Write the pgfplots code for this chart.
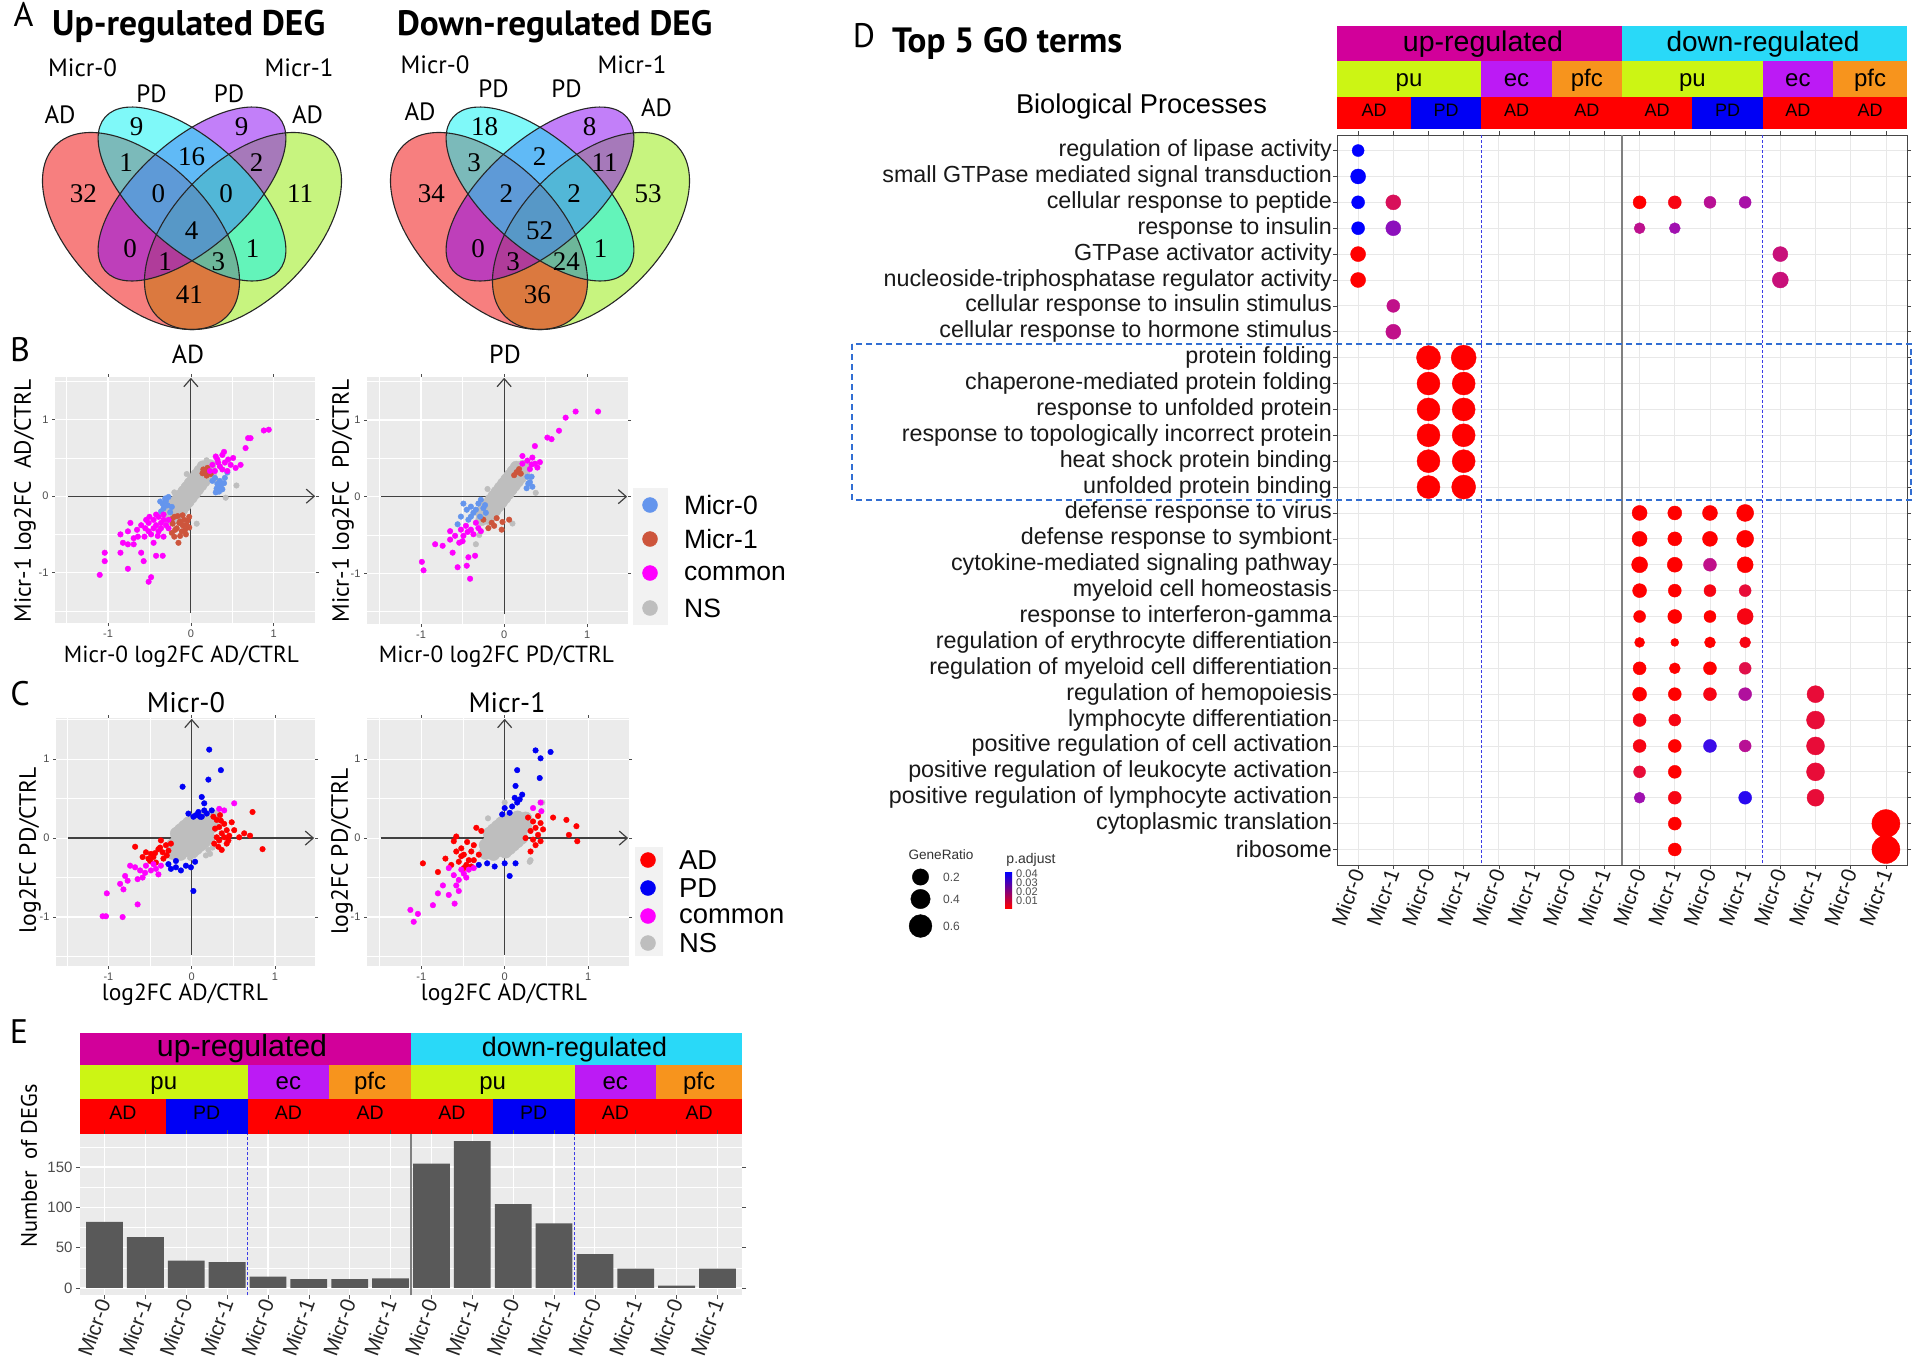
\documentclass[border=0pt]{standalone}
\usepackage{fontspec}
\setmainfont{Liberation Sans}
\newfontfamily\myr{PT Sans}
\newfontfamily\vser{Liberation Serif}
\usepackage{graphicx}
\usepackage{pgfplots}
\usepackage{pgfplotstable}
\pgfplotsset{compat=1.18}
\usetikzlibrary{arrows.meta}
\newcommand{\fsz}[1]{\fontsize{#1}{#1}\selectfont}

\definecolor{vred}{RGB}{240,0,0}
\definecolor{vcyan}{RGB}{0,245,245}
\definecolor{vpur}{RGB}{135,0,245}
\definecolor{vgrn}{RGB}{145,235,0}
\definecolor{upmag}{RGB}{210,0,154}
\definecolor{downcy}{RGB}{41,217,248}
\definecolor{pucol}{RGB}{204,245,20}
\definecolor{eccol}{RGB}{188,26,245}
\definecolor{pfccol}{RGB}{247,148,29}
\definecolor{adred}{RGB}{255,0,0}
\definecolor{pdblue}{RGB}{0,0,245}
\definecolor{ggbg}{RGB}{235,235,235}
\definecolor{keybg}{RGB}{242,242,242}
\definecolor{mzero}{RGB}{100,149,237}
\definecolor{mone}{RGB}{205,85,60}
\definecolor{comm}{RGB}{255,0,255}
\definecolor{nsg}{RGB}{190,190,190}
\definecolor{barg}{RGB}{89,89,89}
\definecolor{boxblue}{RGB}{50,110,210}
\definecolor{txtg}{RGB}{77,77,77}
\definecolor{dashb}{RGB}{60,60,230}
\definecolor{padmid}{RGB}{160,16,176}

% grey (NS) clouds: dense cores
\pgfplotstableread{
x y
-0.270 -0.300
-0.232 -0.246
-0.193 -0.192
-0.155 -0.138
-0.116 -0.085
-0.078 -0.031
-0.039 0.023
0.000 0.077
0.038 0.131
0.077 0.185
0.115 0.238
0.154 0.292
0.192 0.346
0.230 0.400
-0.185 -0.286
-0.279 -0.206
-0.146 -0.232
-0.240 -0.152
-0.108 -0.178
-0.202 -0.098
-0.069 -0.125
-0.163 -0.045
-0.031 -0.071
-0.125 0.009
0.008 -0.017
-0.086 0.063
0.047 0.037
-0.047 0.117
0.085 0.091
-0.009 0.171
0.124 0.145
0.030 0.225
0.162 0.198
0.068 0.278
0.201 0.252
0.107 0.332
0.239 0.306
0.145 0.386
}\nsB
\pgfplotstableread{
x y
-0.230 -0.190
-0.182 -0.146
-0.134 -0.102
-0.086 -0.058
-0.038 -0.014
0.010 0.030
0.058 0.074
0.106 0.118
0.154 0.162
0.202 0.206
0.250 0.250
-0.135 -0.203
-0.229 -0.089
-0.087 -0.159
-0.181 -0.045
-0.039 -0.115
-0.133 -0.001
0.009 -0.071
-0.085 0.043
0.057 -0.027
-0.037 0.087
0.105 0.017
0.011 0.131
0.153 0.061
0.059 0.175
0.201 0.105
0.107 0.219
0.249 0.149
0.155 0.263
0.009 -0.173
-0.181 0.057
0.057 -0.129
-0.133 0.101
0.105 -0.085
-0.085 0.145
0.153 -0.041
-0.037 0.189
0.201 0.003
0.011 0.233
}\nsC

\tikzset{arr/.style={draw=black!75, line width=1.2pt, -{Straight Barb[length=8pt, width=14pt, line width=1.2pt]}}}
\pgfplotsset{
  scat/.style={
    scale only axis, anchor=north west,
    axis background/.style={fill=ggbg},
    axis line style={draw=none},
    xtick={-1,0,1}, ytick={-1,0,1},
    minor xtick={-1.5,-0.5,0.5,1.5}, minor ytick={-1.5,-0.5,0.5,1.5},
    grid=both,
    major grid style={white, line width=1.1pt},
    minor grid style={white, line width=0.5pt},
    tick align=outside, major tick length=3pt, minor tick length=0pt,
    tick style={txtg, line width=0.6pt},
    ticklabel style={font=\fsz{11}, text=txtg},
    /pgf/number format/assume math mode=true,
    clip=false,
  },
  ns/.style={only marks, mark=*, mark size=6pt, color=nsg},
  dotc/.style={only marks, mark=*, mark size=2.8pt, color=#1},
  keyleg/.style={scale only axis, anchor=north west, hide axis, y dir=reverse, clip=false},
}

\begin{document}
\begin{tikzpicture}[x=1pt,y=-1pt,
  tx/.style={inner sep=0pt, text height=0.7em, text depth=0pt},
  lg/.style={anchor=west, inner sep=0pt}]
\path[use as bounding box] (0,0) rectangle (1920,1369);
\fill[white] (0,0) rectangle (1920,1369);

% ================= Panel A =================
\foreach \dx in {0,348}{
  \fill[vgrn, fill opacity=0.5, rotate around={45:(243+\dx,231)}] (243+\dx,231) ellipse [x radius=121, y radius=69];
  \fill[vred, fill opacity=0.5, rotate around={-45:(141+\dx,231)}] (141+\dx,231) ellipse [x radius=121, y radius=69];
  \fill[vpur, fill opacity=0.5, rotate around={41.6:(192+\dx,194)}] (192+\dx,194) ellipse [x radius=116, y radius=54];
  \fill[vcyan, fill opacity=0.5, rotate around={-41.6:(192+\dx,194)}] (192+\dx,194) ellipse [x radius=116, y radius=54];
  \draw[black!85, line width=1.1pt, rotate around={45:(243+\dx,231)}] (243+\dx,231) ellipse [x radius=121, y radius=69];
  \draw[black!85, line width=1.1pt, rotate around={-45:(141+\dx,231)}] (141+\dx,231) ellipse [x radius=121, y radius=69];
  \draw[black!85, line width=1.1pt, rotate around={41.6:(192+\dx,194)}] (192+\dx,194) ellipse [x radius=116, y radius=54];
  \draw[black!85, line width=1.1pt, rotate around={-41.6:(192+\dx,194)}] (192+\dx,194) ellipse [x radius=116, y radius=54];
}
\begin{scope}[every node/.style={font=\vser\fsz{27}, inner sep=0pt}]
\foreach \x/\y/\u/\d in {136.7/126.7/9/18, 241.7/126.7/9/8, 126/163/1/3, 191.7/156.7/16/2, 256.7/163/2/11, 83.3/193.3/32/34, 158.3/193.3/0/2, 226/193.3/0/2, 300/193.3/11/53, 191.7/231/4/52, 130/249/0/0, 165/261.7/1/3, 218.3/261.7/3/24, 252.7/249/1/1, 189.3/295/41/36}{
  \node at (\x,\y) {\u};
  \node at (\x+348,\y) {\d};
}
\end{scope}
\begin{scope}[every node/.style={tx, font=\myr\fsz{25}}]
\node at (82.5,72.5) {Micr-0};
\node at (299,72.5) {Micr-1};
\node at (151.5,98.5) {PD};
\node at (229,98.5) {PD};
\node at (60,120) {AD};
\node at (307.5,120) {AD};
\node at (435,70) {Micr-0};
\node at (632,70) {Micr-1};
\node at (493.5,93.5) {PD};
\node at (566.5,93.5) {PD};
\node at (420,117) {AD};
\node at (656.5,112.5) {AD};
\end{scope}
\node[anchor=base west, inner sep=0pt] at (52,35) {\resizebox{273pt}{!}{\myr\bfseries Up-regulated DEG}};
\node[anchor=base west, inner sep=0pt] at (397,35) {\resizebox{315pt}{!}{\myr\bfseries Down-regulated DEG}};

% panel letters
\begin{scope}[every node/.style={tx, font=\myr\fsz{34}}]
\node at (23.5,22.5) {A};
\node at (20,357.5) {B};
\node at (20,702) {C};
\node at (864,44) {D};
\node at (19,1040) {E};
\end{scope}

% ================= Panel B =================
\node[tx, font=\myr\fsz{26}] at (188,360) {AD};
\node[tx, font=\myr\fsz{26}] at (505,360) {PD};
\node[anchor=base west, inner sep=0pt] at (65,409) {\resizebox{91pt}{!}{\myr r= 0.811}};
\node[anchor=base west, inner sep=0pt] at (65,436) {\resizebox{122pt}{!}{\myr p< 2.2e-16}};
\node[anchor=base west, inner sep=0pt] at (379,408) {\resizebox{91pt}{!}{\myr r= 0.736}};
\node[anchor=base west, inner sep=0pt] at (379,435) {\resizebox{123pt}{!}{\myr p< 2.2e-16}};
\node[anchor=base, inner sep=0pt] at (181.5,662) {\resizebox{235pt}{!}{\myr Micr-0 log2FC AD/CTRL}};
\node[anchor=base, inner sep=0pt] at (496.5,662) {\resizebox{235pt}{!}{\myr Micr-0 log2FC PD/CTRL}};
\node[rotate=90, inner sep=0pt] at (25,501) {\resizebox{243pt}{!}{\myr Micr-1 log2FC\ \ AD/CTRL}};
\node[rotate=90, inner sep=0pt] at (343,501) {\resizebox{243pt}{!}{\myr Micr-1 log2FC\ \ PD/CTRL}};

\begin{axis}[scat, at={(55pt,-377pt)}, width=261pt, height=246pt,
  xmin=-1.64, xmax=1.51, ymin=-1.66, ymax=1.56]
\addplot[ns] table {\nsB};
\addplot[dotc=nsg] coordinates {(-0.05,0.29) (0.19,0.47) (0.55,0.14) (0.07,-0.36) (0.42,-0.02) (-0.40,-0.40) (0.30,0.22) (-0.20,0.05)};
\addplot[dotc=mone] coordinates {(0.17,0.31) (0.20,0.37) (0.15,0.35) (0.24,0.29) (0.19,0.27) (0.14,0.30) (-0.20,-0.27) (-0.14,-0.35) (-0.08,-0.31) (-0.17,-0.42) (-0.11,-0.46) (-0.05,-0.38) (-0.20,-0.53) (-0.15,-0.61) (-0.23,-0.48) (-0.02,-0.27) (-0.10,-0.25) (-0.13,-0.52) (-0.07,-0.44) (-0.22,-0.36) (-0.16,-0.26) (-0.04,-0.32) (-0.10,-0.38) (-0.19,-0.44) (-0.06,-0.50) (-0.13,-0.33) (-0.23,-0.30) (-0.02,-0.41)};
\addplot[dotc=mzero] coordinates {(0.29,0.24) (0.35,0.20) (0.32,0.16) (0.38,0.09) (0.34,0.06) (0.41,0.24) (0.44,0.31) (0.26,0.20) (0.36,0.13) (0.31,0.10) (0.30,0.05) (0.40,0.17) (-0.34,-0.10) (-0.30,-0.06) (-0.27,-0.01) (-0.33,-0.16) (-0.23,-0.14) (-0.36,-0.20) (-0.28,-0.12) (-0.31,-0.03) (-0.25,-0.21) (-0.37,-0.07)};
\addplot[dotc=comm] coordinates {(-1.10,-1.03) (-1.04,-0.74) (-1.04,-0.85) (-0.85,-0.74) (-0.76,-0.95) (-0.76,-0.63) (-0.69,-0.63) (-0.60,-0.74) (-0.57,-0.85) (-0.51,-1.12) (-0.48,-1.06) (-0.42,-0.78) (-0.34,-0.78) (-0.45,-0.61) (-0.64,-0.53) (-0.73,-0.35) (-0.65,-0.44) (-0.85,-0.50) (-0.51,-0.35) (-0.33,-0.53) (-0.27,-0.42) (-0.45,-0.31) (-0.39,-0.27) (-0.54,-0.31) (-0.60,-0.38) (-0.36,-0.35) (-0.45,-0.42) (-0.33,-0.31) (-0.27,-0.31) (-0.51,-0.46) (-0.39,-0.46) (-0.56,-0.53) (-0.76,-0.46) (-0.82,-0.61) (-0.69,-0.55) (-0.42,-0.38) (-0.48,-0.50) (-0.36,-0.42) (-0.55,-0.42) (-0.30,-0.38) (-0.42,-0.24) (-0.33,-0.24) (-0.50,-0.27) (-0.40,-0.52) (0.26,0.41) (0.32,0.48) (0.38,0.54) (0.41,0.44) (0.35,0.39) (0.48,0.41) (0.51,0.50) (0.29,0.33) (0.44,0.33) (0.60,0.41) (0.66,0.63) (0.69,0.76) (0.72,0.76) (0.88,0.86) (0.94,0.87) (0.23,0.33) (0.54,0.37) (0.38,0.35) (0.45,0.48) (0.33,0.44) (0.30,0.52) (0.40,0.58)};
\draw[arr] (axis cs:-1.48,0) -- (axis cs:1.50,0);
\draw[arr] (axis cs:0,-1.53) -- (axis cs:0,1.55);
\end{axis}

\begin{axis}[scat, at={(367pt,-377pt)}, width=261pt, height=247pt,
  xmin=-1.65, xmax=1.49, ymin=-1.66, ymax=1.56]
\addplot[ns] table {\nsB};
\addplot[dotc=nsg] coordinates {(-0.34,-0.62) (0.10,-0.35) (0.30,0.40) (-0.30,-0.50) (0.38,0.05) (-0.20,0.10)};
\addplot[dotc=mone] coordinates {(0.15,0.32) (0.20,0.30) (0.12,0.28) (0.18,0.36) (-0.25,-0.30) (-0.15,-0.34) (-0.09,-0.28) (-0.03,-0.43) (-0.19,-0.41) (0.06,-0.30) (-0.12,-0.38) (-0.02,-0.33)};
\addplot[dotc=mzero] coordinates {(-0.49,-0.09) (-0.45,-0.17) (-0.40,-0.13) (-0.37,-0.21) (-0.31,-0.09) (-0.28,-0.04) (-0.34,-0.17) (-0.25,-0.15) (-0.43,-0.30) (-0.56,-0.36) (-0.40,-0.26) (-0.29,-0.26) (-0.22,-0.21) (-0.23,-0.11) (-0.52,-0.26) (0.28,0.26) (0.31,0.19) (0.34,0.13) (0.27,0.11) (0.33,0.26) (0.29,0.17)};
\addplot[dotc=comm] coordinates {(0.22,0.43) (0.28,0.47) (0.34,0.51) (0.37,0.43) (0.43,0.45) (0.40,0.38) (0.31,0.36) (0.37,0.66) (0.52,0.77) (0.57,0.75) (0.66,0.86) (0.74,1.03) (0.86,1.11) (1.13,1.11) (0.22,0.53) (0.33,0.42) (-0.99,-0.85) (-0.97,-0.96) (-0.83,-0.62) (-0.74,-0.64) (-0.65,-0.56) (-0.62,-0.73) (-0.54,-0.60) (-0.49,-0.51) (-0.52,-0.43) (-0.46,-0.38) (-0.40,-0.43) (-0.34,-0.34) (-0.31,-0.41) (-0.37,-0.49) (-0.43,-0.79) (-0.45,-0.90) (-0.35,-0.77) (-0.41,-1.07) (-0.56,-0.92) (-0.59,-0.51) (-0.65,-0.45) (-0.28,-0.45) (-0.44,-0.46) (-0.50,-0.58)};
\draw[arr] (axis cs:-1.48,0) -- (axis cs:1.48,0);
\draw[arr] (axis cs:0,-1.53) -- (axis cs:0,1.55);
\end{axis}

\begin{axis}[keyleg, at={(633pt,-488pt)}, width=35pt, height=137pt,
  xmin=633, xmax=668, ymin=488, ymax=625]
\fill[keybg] (axis cs:633,488) rectangle (axis cs:668,625);
\addplot[only marks, mark=*, mark size=7.5pt, color=mzero] coordinates {(650,505)};
\addplot[only marks, mark=*, mark size=7.5pt, color=mone] coordinates {(650,539)};
\addplot[only marks, mark=*, mark size=7.5pt, color=comm] coordinates {(650,573)};
\addplot[only marks, mark=*, mark size=7.5pt, color=nsg] coordinates {(650,608)};
\node[lg, font=\fsz{26.5}] at (axis cs:684,505) {Micr-0};
\node[lg, font=\fsz{26.5}] at (axis cs:684,539) {Micr-1};
\node[lg, font=\fsz{26.5}] at (axis cs:684,573) {common};
\node[lg, font=\fsz{26.5}] at (axis cs:684,608) {NS};
\end{axis}

% ================= Panel C =================
\node[anchor=base, inner sep=0pt] at (186,712) {\resizebox{78pt}{!}{\myr Micr-0}};
\node[anchor=base, inner sep=0pt] at (507,712) {\resizebox{77pt}{!}{\myr Micr-1}};
\node[anchor=base west, inner sep=0pt] at (64,750) {\resizebox{89pt}{!}{\myr r= 0.737}};
\node[anchor=base west, inner sep=0pt] at (64,777) {\resizebox{125pt}{!}{\myr p < 2.2e-16}};
\node[anchor=base west, inner sep=0pt] at (372,745) {\resizebox{90pt}{!}{\myr r= 0.725}};
\node[anchor=base west, inner sep=0pt] at (372,770) {\resizebox{120pt}{!}{\myr p< 2.2e-16}};
\node[anchor=base, inner sep=0pt] at (185,1000) {\resizebox{166pt}{!}{\myr log2FC AD/CTRL}};
\node[anchor=base, inner sep=0pt] at (504,1000) {\resizebox{166pt}{!}{\myr log2FC AD/CTRL}};
\node[rotate=90, inner sep=0pt] at (30,850) {\resizebox{166pt}{!}{\myr log2FC PD/CTRL}};
\node[rotate=90, inner sep=0pt] at (342,851) {\resizebox{166pt}{!}{\myr log2FC PD/CTRL}};

\begin{axis}[scat, at={(56pt,-718pt)}, width=259pt, height=248pt,
  xmin=-1.63, xmax=1.48, ymin=-1.62, ymax=1.52]
\addplot[ns, mark size=6.5pt] table {\nsC};
\addplot[dotc=nsg] coordinates {(0.20,-0.15) (0.22,-0.20) (0.17,-0.22) (-0.02,-0.25) (0.30,0.32) (0.25,-0.12)};
\addplot[dotc=pdblue] coordinates {(0.21,1.12) (0.35,0.86) (0.20,0.74) (-0.11,0.65) (0.12,0.52) (0.15,0.44) (0.05,0.29) (0.12,0.27) (0.18,0.31) (0.02,0.27) (-0.04,0.31) (0.24,0.35) (0.15,0.35) (0.08,0.33) (0.10,0.27) (-0.25,-0.39) (-0.19,-0.37) (-0.13,-0.41) (-0.07,-0.35) (-0.01,-0.37) (-0.28,-0.33) (0.02,-0.67) (-0.19,-0.29) (0.04,-0.30)};
\addplot[dotc=adred] coordinates {(0.30,0.23) (0.33,0.14) (0.39,0.18) (0.42,0.10) (0.36,0.06) (0.30,0.01) (0.33,-0.03) (0.39,0.01) (0.45,0.03) (0.27,-0.07) (0.32,-0.11) (0.42,-0.07) (0.63,0.06) (0.70,0.03) (0.73,0.33) (0.85,-0.14) (0.51,0.10) (0.48,0.20) (0.57,0.01) (0.26,0.27) (0.34,0.29) (0.44,-0.03) (0.36,-0.15) (0.28,0.12) (0.35,0.22) (-0.68,-0.11) (-0.55,-0.18) (-0.49,-0.20) (-0.46,-0.24) (-0.40,-0.14) (-0.35,-0.18) (-0.31,-0.09) (-0.37,-0.03) (-0.28,-0.16) (-0.43,-0.31) (-0.52,-0.26) (-0.59,-0.24) (-0.34,-0.26) (-0.25,-0.07) (-0.44,-0.19) (-0.30,-0.22) (-0.38,-0.12) (-0.50,-0.29)};
\addplot[dotc=comm] coordinates {(0.33,0.37) (0.51,0.44) (0.39,0.35) (-0.74,-0.35) (-0.68,-0.37) (-0.55,-0.35) (-0.49,-0.41) (-0.43,-0.39) (-0.37,-0.35) (-0.46,-0.33) (-0.62,-0.41) (-0.80,-0.48) (-0.77,-0.54) (-0.65,-0.52) (-0.59,-0.50) (-0.86,-0.58) (-0.82,-0.65) (-0.65,-0.84) (-1.02,-0.70) (-1.07,-0.99) (-1.03,-0.99) (-0.83,-1.00) (-0.40,-0.46) (-0.56,-0.44)};
\draw[arr] (axis cs:-1.49,0) -- (axis cs:1.47,0);
\draw[arr] (axis cs:0,-1.48) -- (axis cs:0,1.51);
\end{axis}

\begin{axis}[scat, at={(367pt,-718pt)}, width=262pt, height=248pt,
  xmin=-1.65, xmax=1.49, ymin=-1.62, ymax=1.52]
\addplot[ns, mark size=6.5pt] table {\nsC};
\addplot[dotc=nsg] coordinates {(0.30,-0.30) (0.45,0.45) (0.00,0.45) (-0.20,0.25) (0.31,-0.28)};
\addplot[dotc=pdblue] coordinates {(0.37,1.11) (0.55,1.09) (0.43,1.01) (0.15,0.86) (0.42,0.76) (0.13,0.66) (0.12,0.51) (0.18,0.49) (0.21,0.55) (0.15,0.45) (0.00,0.38) (0.06,0.32) (-0.03,0.30) (0.09,0.40) (-0.31,-0.34) (-0.21,-0.32) (-0.12,-0.36) (0.00,-0.32) (0.06,-0.48) (0.13,-0.32)};
\addplot[dotc=adred] coordinates {(0.28,0.26) (0.34,0.21) (0.37,0.13) (0.31,0.09) (0.40,0.04) (0.34,-0.02) (0.43,-0.04) (0.37,-0.09) (0.46,0.11) (0.31,-0.17) (0.58,0.26) (0.74,0.23) (0.77,0.04) (0.86,0.15) (0.87,-0.04) (0.43,0.19) (0.25,0.00) (0.40,0.28) (-0.98,-0.32) (-0.80,-0.43) (-0.71,-0.26) (-0.61,-0.04) (-0.58,0.02) (-0.52,-0.13) (-0.49,-0.21) (-0.43,-0.28) (-0.46,-0.34) (-0.40,-0.17) (-0.37,-0.09) (-0.34,0.13) (-0.28,0.09) (-0.55,-0.30) (-0.49,-0.38) (-0.40,-0.36) (-0.31,-0.21) (-0.58,-0.17) (-0.64,-0.34) (-0.52,-0.23) (-0.37,-0.28) (-0.45,-0.05)};
\addplot[dotc=comm] coordinates {(0.34,0.38) (0.43,0.45) (0.44,0.34) (-0.67,-0.38) (-0.61,-0.47) (-0.55,-0.53) (-0.49,-0.45) (-0.43,-0.40) (-0.37,-0.38) (-0.58,-0.60) (-0.74,-0.60) (-0.80,-0.70) (-0.86,-0.85) (-0.67,-0.72) (-0.60,-0.83) (-0.55,-0.67) (-1.13,-0.91) (-1.04,-0.96) (-1.09,-1.06) (-0.46,-0.50) (-0.52,-0.40)};
\draw[arr] (axis cs:-1.48,0) -- (axis cs:1.48,0);
\draw[arr] (axis cs:0,-1.48) -- (axis cs:0,1.51);
\end{axis}

\begin{axis}[keyleg, at={(635pt,-847pt)}, width=28pt, height=109pt,
  xmin=635, xmax=663, ymin=847, ymax=956]
\fill[keybg] (axis cs:635,847) rectangle (axis cs:663,956);
\addplot[only marks, mark=*, mark size=7.5pt, color=adred] coordinates {(648,860)};
\addplot[only marks, mark=*, mark size=7.5pt, color=pdblue] coordinates {(648,888)};
\addplot[only marks, mark=*, mark size=7.5pt, color=comm] coordinates {(648,916)};
\addplot[only marks, mark=*, mark size=7.5pt, color=nsg] coordinates {(648,943)};
\node[lg, font=\fsz{27.4}] at (axis cs:679,860) {AD};
\node[lg, font=\fsz{27.4}] at (axis cs:679,888) {PD};
\node[lg, font=\fsz{27.4}] at (axis cs:679,916) {common};
\node[lg, font=\fsz{27.4}] at (axis cs:679,943) {NS};
\end{axis}

% ================= Panel E =================
\fill[upmag] (80,1033) rectangle (411,1065);
\fill[downcy] (411,1033) rectangle (742,1065);
\fill[pucol] (80,1065) rectangle (247.5,1099);
\fill[eccol] (247.5,1065) rectangle (329.3,1099);
\fill[pfccol] (329.3,1065) rectangle (411,1099);
\fill[pucol] (411,1065) rectangle (574.5,1099);
\fill[eccol] (574.5,1065) rectangle (656.2,1099);
\fill[pfccol] (656.2,1065) rectangle (742,1099);
\fill[adred] (80,1099) rectangle (165.8,1133.8);
\fill[pdblue] (165.8,1099) rectangle (247.5,1133.8);
\fill[adred] (247.5,1099) rectangle (492.7,1133.8);
\fill[pdblue] (492.7,1099) rectangle (574.5,1133.8);
\fill[adred] (574.5,1099) rectangle (742,1133.8);
\node[anchor=base, inner sep=0pt] at (242,1056) {\resizebox{170pt}{!}{up-regulated}};
\node[anchor=base, inner sep=0pt] at (574.5,1056) {\resizebox{185pt}{!}{down-regulated}};
\begin{scope}[every node/.style={anchor=base, inner sep=0pt, font=\fsz{24}}]
\node at (163.8,1089) {pu};
\node at (288.4,1089) {ec};
\node at (370.1,1089) {pfc};
\node at (492.7,1089) {pu};
\node at (615.3,1089) {ec};
\node at (699.1,1089) {pfc};
\end{scope}
\begin{scope}[every node/.style={tx, font=\fsz{19.5}}]
\node at (122.9,1116) {AD};
\node at (206.6,1116) {PD};
\node at (288.4,1116) {AD};
\node at (370.1,1116) {AD};
\node at (451.8,1116) {AD};
\node at (533.6,1116) {PD};
\node at (615.3,1116) {AD};
\node at (699.1,1116) {AD};
\end{scope}
\node[rotate=90, inner sep=0pt] at (29,1166) {\resizebox{163pt}{!}{\myr Number\ \ of DEGs}};

\begin{axis}[scale only axis, anchor=north west, at={(80pt,-1133.8pt)}, width=662pt, height=161.5pt,
  xmin=0.4, xmax=16.6, ymin=-9.1, ymax=191.1,
  axis background/.style={fill=ggbg}, axis line style={draw=none},
  ybar, bar width=0.9,
  xtick={1,...,16},
  xticklabels={Micr-0,Micr-1,Micr-0,Micr-1,Micr-0,Micr-1,Micr-0,Micr-1,Micr-0,Micr-1,Micr-0,Micr-1,Micr-0,Micr-1,Micr-0,Micr-1},
  ytick={0,50,100,150}, minor ytick={25,75,125,175},
  grid=both, major grid style={white, line width=1.1pt}, minor grid style={white, line width=0.5pt},
  tick align=outside, major tick length=4pt, minor tick length=0pt, tick style={txtg, line width=0.6pt},
  xticklabel style={rotate=70, anchor=east, font=\fsz{21}, text=black!85, inner sep=1pt},
  yticklabel style={font=\fsz{15}, text=txtg},
  /pgf/number format/assume math mode=true,
  clip=false]
\addplot[fill=barg, draw=none] coordinates {(1,82) (2,63) (3,34) (4,32) (5,14) (6,11) (7,11) (8,12) (9,154) (10,182) (11,104) (12,80) (13,42) (14,24) (15,3) (16,24)};
\draw[dashb, densely dashed, line width=1pt] (axis cs:4.5,-9.1) -- (axis cs:4.5,191.1);
\draw[dashb, densely dashed, line width=1pt] (axis cs:12.5,-9.1) -- (axis cs:12.5,191.1);
\draw[gray, line width=1.6pt] (axis cs:8.5,-9.1) -- (axis cs:8.5,191.1);
\end{axis}

% ================= Panel D =================
\node[anchor=base west, inner sep=0pt] at (892,52) {\resizebox{230pt}{!}{\myr\bfseries Top 5 GO terms}};
\node[anchor=base, inner sep=0pt] at (1141.5,113) {\resizebox{251pt}{!}{Biological Processes}};
\fill[upmag] (1337,26) rectangle (1622,61);
\fill[downcy] (1622,26) rectangle (1907,61);
\fill[pucol] (1337,61) rectangle (1481.3,97);
\fill[eccol] (1481.3,61) rectangle (1551.6,97);
\fill[pfccol] (1551.6,61) rectangle (1622,97);
\fill[pucol] (1622,61) rectangle (1762.7,97);
\fill[eccol] (1762.7,61) rectangle (1833.1,97);
\fill[pfccol] (1833.1,61) rectangle (1907,97);
\fill[adred] (1337,97) rectangle (1410.9,129);
\fill[pdblue] (1410.9,97) rectangle (1481.3,129);
\fill[adred] (1481.3,97) rectangle (1692.4,129);
\fill[pdblue] (1692.4,97) rectangle (1762.7,129);
\fill[adred] (1762.7,97) rectangle (1907,129);
\node[anchor=base, inner sep=0pt] at (1483,51) {\resizebox{160pt}{!}{up-regulated}};
\node[anchor=base, inner sep=0pt] at (1763,51) {\resizebox{193pt}{!}{down-regulated}};
\begin{scope}[every node/.style={anchor=base, inner sep=0pt, font=\fsz{24}}]
\node at (1409,86) {pu};
\node at (1516.5,86) {ec};
\node at (1586.8,86) {pfc};
\node at (1692.4,86) {pu};
\node at (1797.9,86) {ec};
\node at (1870,86) {pfc};
\end{scope}
\begin{scope}[every node/.style={tx, font=\fsz{18}}]
\node at (1374,113) {AD};
\node at (1446.1,113) {PD};
\node at (1516.5,113) {AD};
\node at (1586.8,113) {AD};
\node at (1657.2,113) {AD};
\node at (1727.6,113) {PD};
\node at (1797.9,113) {AD};
\node at (1870,113) {AD};
\end{scope}

\begin{axis}[scale only axis, anchor=north west, at={(1337pt,-135pt)}, width=570pt, height=730pt,
  xmin=0.4, xmax=16.6, ymin=0.4, ymax=28.6, y dir=reverse,
  xtick={1,...,16},
  xticklabels={Micr-0,Micr-1,Micr-0,Micr-1,Micr-0,Micr-1,Micr-0,Micr-1,Micr-0,Micr-1,Micr-0,Micr-1,Micr-0,Micr-1,Micr-0,Micr-1},
  ytick={1,...,28},
  yticklabels={regulation of lipase activity, small GTPase mediated signal transduction, cellular response to peptide, response to insulin, GTPase activator activity, nucleoside-triphosphatase regulator activity, cellular response to insulin stimulus, cellular response to hormone stimulus, protein folding, chaperone-mediated protein folding, response to unfolded protein, response to topologically incorrect protein, heat shock protein binding, unfolded protein binding, defense response to virus, defense response to symbiont, cytokine-mediated signaling pathway, myeloid cell homeostasis, response to interferon-gamma, regulation of erythrocyte differentiation, regulation of myeloid cell differentiation, regulation of hemopoiesis, lymphocyte differentiation, positive regulation of cell activation, positive regulation of leukocyte activation, positive regulation of lymphocyte activation, cytoplasmic translation, ribosome},
  grid=major, major grid style={gray!18, line width=0.8pt},
  axis line style={gray!55!black, line width=1pt},
  tick align=outside, major tick length=4pt, tick style={gray!55!black, line width=0.6pt},
  xticklabel style={rotate=70, anchor=east, font=\fsz{21}, text=black!90, inner sep=1pt},
  yticklabel style={font=\fsz{23.3}, text=black!90, inner sep=1pt},
  colormap={padj}{rgb255=(255,0,0) rgb255=(224,16,74) rgb255=(192,16,138) rgb255=(160,16,176) rgb255=(80,16,224) rgb255=(0,0,255)},
  point meta min=0, point meta max=1,
  clip=false]
\draw[dashb, densely dashed, line width=1pt] (axis cs:4.5,0.4) -- (axis cs:4.5,28.6);
\draw[dashb, densely dashed, line width=1pt] (axis cs:12.5,0.4) -- (axis cs:12.5,28.6);
\draw[gray, line width=1.6pt] (axis cs:8.5,0.4) -- (axis cs:8.5,28.6);
\addplot[scatter, only marks, mark=*, point meta=\thisrow{c},
  scatter/use mapped color={draw=mapped color, fill=mapped color},
  visualization depends on={\thisrow{r} \as \rr},
  scatter/@pre marker code/.append style={/tikz/mark size=\rr}]
  table[x=x, y=y] {
x y r c
1 1 6 1
1 2 7.5 1
1 3 6.5 1
2 3 7.5 0.25
9 3 6.5 0
10 3 6.5 0.05
11 3 6 0.45
12 3 6 0.55
1 4 6.5 1
2 4 7.5 0.65
9 4 5.5 0.42
10 4 5.5 0.6
1 5 7.5 0
13 5 7.5 0.35
1 6 7.5 0
13 6 8 0.35
2 7 6.5 0.4
2 8 7.5 0.4
3 9 12 0
4 9 12.5 0
3 10 11.5 0
4 10 11.5 0
3 11 11.5 0
4 11 11.5 0
3 12 11.5 0
4 12 11.5 0
3 13 11.5 0
4 13 11.5 0
3 14 11.5 0
4 14 12 0
9 15 7.5 0
10 15 7 0
11 15 7.5 0
12 15 8.5 0
9 16 7.5 0
10 16 7 0
11 16 7.5 0
12 16 8.5 0
9 17 8 0
10 17 7.5 0
11 17 6.5 0.4
12 17 8 0
9 18 7 0
10 18 6.5 0
11 18 6 0.05
12 18 6 0.15
9 19 6 0
10 19 7 0
11 19 6 0
12 19 8 0.05
9 20 5 0
10 20 4 0
11 20 5.5 0
12 20 5.5 0.05
9 21 6.5 0
10 21 5.5 0
11 21 6.5 0
12 21 6 0.2
9 22 7 0
10 22 6.5 0
11 22 6.5 0.05
12 22 6.5 0.5
14 22 8.5 0.15
9 23 6.5 0.05
10 23 6 0.05
14 23 9 0.15
9 24 6.5 0.05
10 24 6.5 0
11 24 6.5 0.85
12 24 6 0.45
14 24 9 0.15
9 25 6 0.15
10 25 6.5 0
14 25 9 0.15
9 26 5.5 0.6
10 26 6.5 0.05
12 26 6.5 0.9
14 26 8.5 0.15
10 27 6.5 0
16 27 14 0
10 28 6.5 0
16 28 14 0
};
\end{axis}
\draw[boxblue, dash pattern=on 6pt off 4pt, line width=2pt] (852,344) rectangle (1911,500);

% D legend
\begin{axis}[keyleg, at={(900pt,-845pt)}, width=180pt, height=95pt,
  xmin=900, xmax=1080, ymin=845, ymax=940]
\addplot[only marks, mark=*, mark size=8.2pt, color=black] coordinates {(920.5,877)};
\addplot[only marks, mark=*, mark size=9.7pt, color=black] coordinates {(920.5,899)};
\addplot[only marks, mark=*, mark size=11.4pt, color=black] coordinates {(920.5,926)};
\node[font=\fsz{13.6}, text=black!80, inner sep=0pt] at (axis cs:941,855) {GeneRatio};
\node[lg, font=\fsz{12}, text=txtg] at (axis cs:943,877) {0.2};
\node[lg, font=\fsz{12}, text=txtg] at (axis cs:943,899) {0.4};
\node[lg, font=\fsz{12}, text=txtg] at (axis cs:943,926) {0.6};
\node[font=\fsz{14}, text=black!80, inner sep=0pt] at (axis cs:1031,860) {p.adjust};
\shade[top color=blue, middle color=padmid, bottom color=red] (axis cs:1005,872) rectangle (axis cs:1012,908);
\node[lg, font=\fsz{11}, text=txtg] at (axis cs:1016,874) {0.04};
\node[lg, font=\fsz{11}, text=txtg] at (axis cs:1016,883) {0.03};
\node[lg, font=\fsz{11}, text=txtg] at (axis cs:1016,892) {0.02};
\node[lg, font=\fsz{11}, text=txtg] at (axis cs:1016,901) {0.01};
\end{axis}

\end{tikzpicture}
\end{document}
